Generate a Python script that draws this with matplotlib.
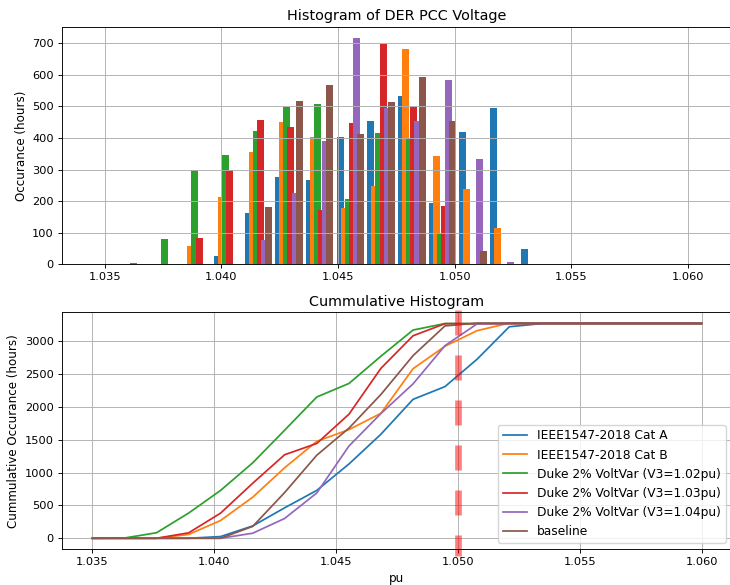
import numpy as np
import matplotlib
matplotlib.use("Agg")
import matplotlib.pyplot as plt

# bin positions (pu)
pu_bins = [1.035, 1.03632, 1.03763, 1.03895, 1.04026, 1.04158, 1.04289,
           1.04421, 1.04553, 1.04684, 1.04816, 1.04947, 1.05079, 1.05211,
           1.05342, 1.05474, 1.05605, 1.05737, 1.05868, 1.06]

labels = ['IEEE1547-2018 Cat A', 'IEEE1547-2018 Cat B',
          'Duke 2% VoltVar (V3=1.02pu)', 'Duke 2% VoltVar (V3=1.03pu)',
          'Duke 2% VoltVar (V3=1.04pu)', 'baseline']

# hours per bin
cat_a = [0, 0, 0, 0, 26, 162, 276, 266, 402, 453, 532, 194, 418, 494, 48, 0, 0, 0, 0, 0]
cat_b = [0, 0, 0, 58, 213, 355, 449, 402, 179, 248, 680, 342, 238, 115, 0, 0, 0, 0, 0, 0]
duke_102 = [0, 4, 80, 300, 345, 421, 497, 506, 206, 415, 399, 99, 0, 0, 0, 0, 0, 0, 0, 0]
duke_103 = [0, 0, 0, 83, 300, 456, 434, 172, 446, 698, 497, 184, 0, 0, 0, 0, 0, 0, 0, 0]
duke_104 = [0, 0, 0, 0, 0, 77, 225, 389, 715, 494, 453, 582, 333, 7, 0, 0, 0, 0, 0, 0]
baseline = [0, 0, 0, 0, 0, 181, 516, 569, 412, 513, 592, 453, 42, 0, 0, 0, 0, 0, 0, 0]

series = [cat_a, cat_b, duke_102, duke_103, duke_104, baseline]

# the reference looks like it was saved at a smaller dpi, so shrink everything a bit
plt.rcParams.update({
    'font.size': 8.2,
    'axes.titlesize': 10.4,
    'axes.labelsize': 8.6,
    'legend.fontsize': 8.8,
    'xtick.major.size': 2.9, 'ytick.major.size': 2.9,
    'xtick.major.pad': 2.9, 'ytick.major.pad': 2.9,
    'xtick.major.width': 0.66, 'ytick.major.width': 0.66,
    'lines.linewidth': 1.25,
    'grid.linewidth': 0.66,
    'axes.linewidth': 0.66,
    'axes.titlepad': 4.9,
    'axes.labelpad': 3.3,
})

fig = plt.figure(figsize=(7.3, 5.85), dpi=100)
ax1 = fig.add_axes([0.0849, 0.5482, 0.9178, 0.4056])
ax2 = fig.add_axes([0.0849, 0.0615, 0.9178, 0.4046])

x = np.array(pu_bins)
step = 0.0001754
for i, vals in enumerate(series):
    ax1.bar(x + (i - 2.5) * step, vals, width=0.0003, color='C%d' % i)
ax1.set_xlim(1.03316, 1.06189)
ax1.set_ylim(0, 751)
ax1.grid(True)
ax1.set_title('Histogram of DER PCC Voltage')
ax1.set_ylabel('Occurance (hours)')

for i, vals in enumerate(series):
    ax2.plot(x, np.cumsum(vals), color='C%d' % i, label=labels[i])
ax2.axvline(1.05, ymin=1.01, ymax=-0.03, color='r', alpha=0.5, lw=4.8,
            dashes=(3.75, 3.0), clip_on=False)
ax2.set_xlim(1.03375, 1.06125)
ax2.grid(True)
ax2.set_title('Cummulative Histogram')
ax2.set_ylabel('Cummulative Occurance (hours)')
ax2.set_xlabel('pu')
ax2.legend(loc='lower right')

fig.savefig('out.png', dpi=100)
